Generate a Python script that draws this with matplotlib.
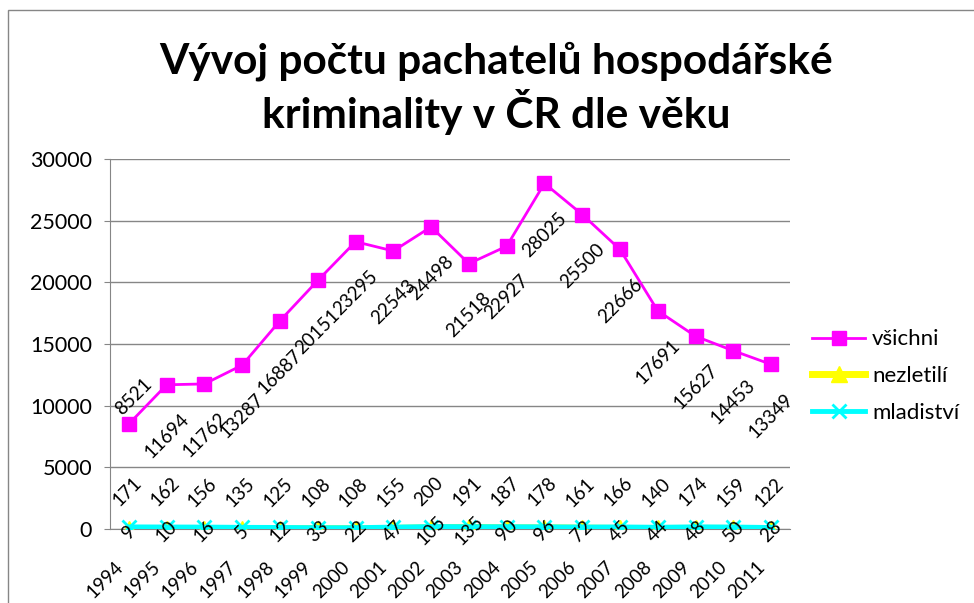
import matplotlib.pyplot as plt
from matplotlib.patches import Rectangle

years = ["1994", "1995", "1996", "1997", "1998", "1999", "2000", "2001", "2002",
         "2003", "2004", "2005", "2006", "2007", "2008", "2009", "2010", "2011"]
vsichni = [8521, 11694, 11762, 13287, 16887, 20151, 23295, 22543, 24498,
           21518, 22927, 28025, 25500, 22666, 17691, 15627, 14453, 13349]
nezletili = [9, 10, 16, 5, 12, 33, 22, 47, 105, 135, 90, 96, 72, 45, 44, 48, 50, 28]
mladistvi = [171, 162, 156, 135, 125, 108, 108, 155, 200,
             191, 187, 178, 161, 166, 140, 174, 159, 122]

title = "Vývoj počtu pachatelů hospodářské\nkriminality v ČR dle věku"
yticks = [0, 5000, 10000, 15000, 20000, 25000, 30000]

W, H = 974, 603
GRAY = "#868686"
plt.rcParams["font.family"] = ["Lato", "DejaVu Sans"]


def px(v):
    # pixels -> points at dpi 100
    return v * 0.72


def main() -> None:
    fig = plt.figure(figsize=(W / 100, H / 100), dpi=100)
    ax = fig.add_axes([110 / W, 1 - 529 / H, 680 / W, 370 / H])

    x = list(range(len(years)))
    ax.plot(x, vsichni, color="#FF00FF", lw=2, marker="s", ms=10,
            label="všichni", zorder=3)
    ax.plot(x, nezletili, color="#FFFF00", lw=5, marker="^", ms=12,
            label="nezletilí", zorder=4)
    ax.plot(x, mladistvi, color="#00FFFF", lw=3.5, marker="x", ms=10, mew=2,
            label="mladiství", zorder=5)

    lab = dict(rotation=45, fontsize=13.5, ha="center", va="center",
               textcoords="offset points", zorder=6)
    for i, v in enumerate(vsichni):
        off = (px(5), px(27)) if i == 0 else (0, px(-51))
        ax.annotate(str(v), (i, v), xytext=off, **lab)
    for i, v in enumerate(mladistvi):
        ax.annotate(str(v), (i, v), xytext=(px(-2), px(35)), **lab)
    for i, v in enumerate(nezletili):
        ax.annotate(str(v), (i, v), xytext=(0, px(-3)), **lab)

    ax.set_xlim(-0.5, len(years) - 0.5)
    ax.set_ylim(0, 30000)
    ax.set_yticks(yticks)
    ax.set_yticklabels([str(t) for t in yticks], fontsize=15.5)
    ax.set_xticks(x)
    ax.set_xticklabels([])
    # category labels, rotated like in Excel
    for i, yr in enumerate(years):
        ax.annotate(yr, (i, 0), xycoords=("data", "axes fraction"),
                    xytext=(px(-15), px(-29)), textcoords="offset points",
                    rotation=45, rotation_mode="anchor", ha="right", va="top",
                    fontsize=13.5)
    ax.tick_params(axis="x", length=0, pad=0)
    ax.tick_params(axis="y", length=px(6), color=GRAY, pad=px(12))

    ax.grid(axis="y", color=GRAY, lw=1)
    ax.set_axisbelow(True)
    for s in ("top", "right"):
        ax.spines[s].set_visible(False)
    for s in ("left", "bottom"):
        ax.spines[s].set_color(GRAY)

    fig.text(496 / W, 1 - 88 / H, title, ha="center", va="center",
             fontsize=30.5, fontweight="bold", linespacing=1.2)

    ax.legend(loc="center left", bbox_to_anchor=(812 / W, 1 - 376 / H),
              bbox_transform=fig.transFigure, frameon=False, fontsize=16,
              handlelength=2.4, handletextpad=0.3, labelspacing=0.75,
              borderpad=0, borderaxespad=0)

    fig.add_artist(Rectangle((8 / W, -0.1), 2, 1.1 - 10 / H,
                             transform=fig.transFigure, fill=False,
                             edgecolor=GRAY, lw=1))

    fig.savefig("out.png", dpi=100)


if __name__ == "__main__":
    main()
